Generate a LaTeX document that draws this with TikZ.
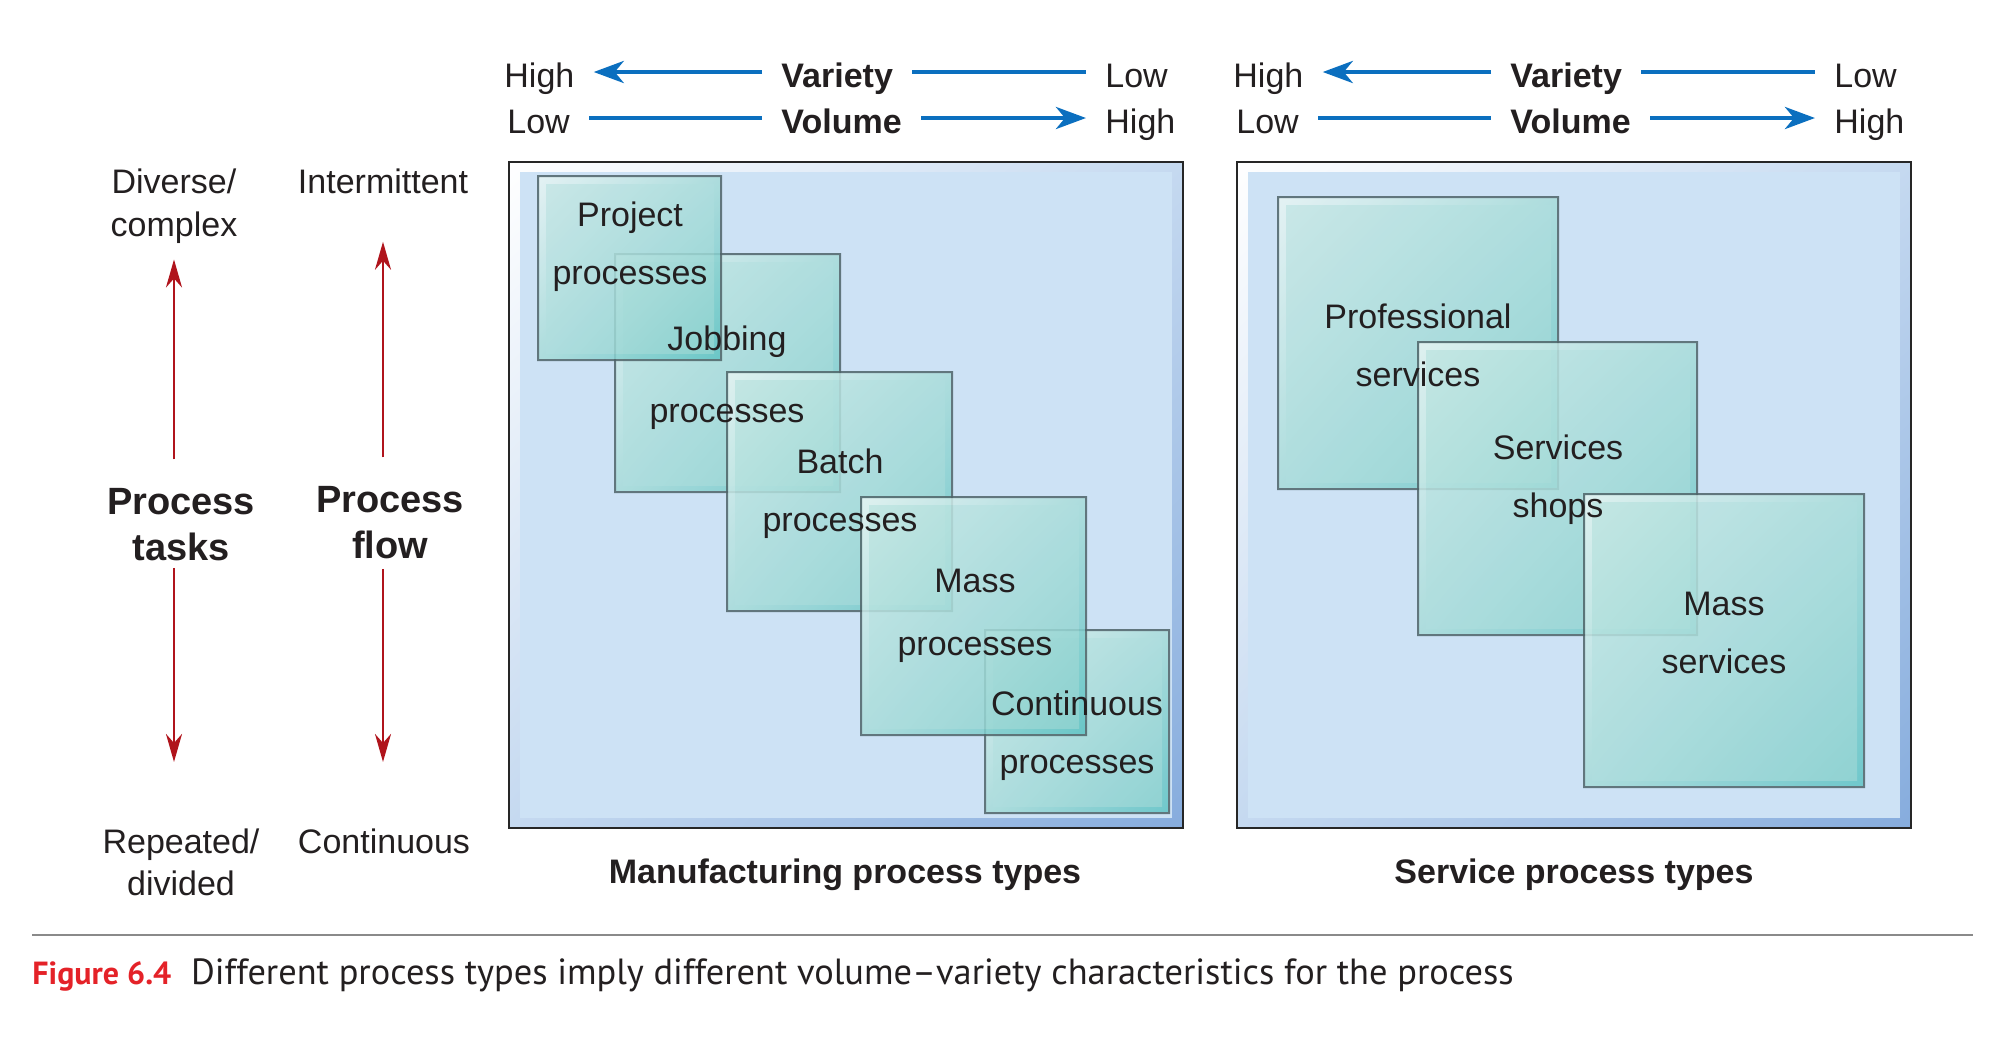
\documentclass[tikz,border=0pt]{standalone}
\usepackage{fontspec}
\setmainfont{Liberation Sans}
\newfontfamily\capfont{PT Sans}
\usepackage{xcolor}
\usepackage{tikz}
\usetikzlibrary{arrows.meta, shadings}

\definecolor{ink}{HTML}{231F20}
\definecolor{arrblue}{HTML}{0B6FBF}
\definecolor{arrred}{HTML}{B0141C}
\definecolor{capred}{HTML}{E42228}
\definecolor{panelin}{HTML}{CDE2F5}
\definecolor{panelmid}{HTML}{C5D9F0}
\definecolor{paneldark}{HTML}{86ACDD}
\definecolor{boxline}{HTML}{4F6468}
\definecolor{ringL}{HTML}{E8F5F4}
\definecolor{ringM}{HTML}{A8DCD9}
\definecolor{ringD}{HTML}{5FC3C4}
\definecolor{tealL}{HTML}{C8E8E5}
\definecolor{tealM}{HTML}{A9DDDA}
\definecolor{tealD}{HTML}{86D0CD}
\definecolor{rulegray}{HTML}{8A8A8A}

\tikzset{
  lbl/.style={font=\fontsize{17}{21.5}\selectfont, text=ink, inner sep=0pt, anchor=base, align=center},
  hdr/.style={font=\fontsize{17}{20}\selectfont, text=ink, inner ysep=0pt, inner xsep=9.5pt,
    text height=17pt, text depth=2pt, anchor=base west},
  hdrb/.style={hdr, font=\fontsize{17}{20}\selectfont\bfseries},
  biglbl/.style={lbl, font=\fontsize{19}{23}\selectfont\bfseries},
  boxtxt/.style={lbl, font=\fontsize{17}{29}\selectfont},
  bluearr/.style={draw=arrblue, line width=2.3pt, -{Stealth[length=15pt,width=11pt,inset=4.5pt]}},
  blueln/.style={draw=arrblue, line width=2.3pt},
  redarr/.style={draw=arrred, line width=1.4pt, -{Stealth[length=14pt,width=8pt,inset=4.5pt]}},
  boxline/.style={draw=boxline, line width=1pt}
}

\begin{document}
\begin{tikzpicture}[x=0.5pt, y=-0.5pt]
\useasboundingbox (0,0) rectangle (1998,1041);

% Two panels with bevelled frame
\foreach \x in {509,1237} {
  \shade[upper left=white, upper right=panelmid, lower left=panelmid, lower right=paneldark]
    (\x,162) rectangle (\x+674,828);
  \fill[panelin] (\x+11,172) rectangle (\x+663,818);
  \draw[line width=1pt, black!85] (\x,162) rectangle (\x+674,828);
}

% Overlapping process boxes (drawn back to front)
\foreach \xa/\ya/\xb/\yb in {615/254/840/492, 538/176/721/360, 727/372/952/611,
    985/630/1169/813, 861/497/1086/735,
    1278/197/1558/489, 1418/342/1697/635, 1584/494/1864/787} {
  \begin{scope}[transparency group, opacity=0.85]
    \shade[upper left=ringL, upper right=ringM, lower left=ringM, lower right=ringD]
      (\xa,\ya) rectangle (\xb,\yb);
    \shade[upper left=tealL, upper right=tealM, lower left=tealM, lower right=tealD]
      (\xa+8,\ya+8) rectangle (\xb-7,\yb-7);
    \draw[boxline] (\xa,\ya) rectangle (\xb,\yb);
  \end{scope}
}

% Box labels (base = last line)
\node[boxtxt] (proj) at (630,284) {Project\\processes};
\node[boxtxt] (job) at (727,422) {Jobbing\\[7pt]processes};
\node[boxtxt] (batch) at (840,531) {Batch\\processes};
\node[boxtxt] (mass) at (975,655) {Mass\\[2.5pt]processes};
\node[boxtxt] (cont) at (1077,773) {Continuous\\processes};
\node[boxtxt] (prof) at (1418,386) {Professional\\services};
\node[boxtxt] (shop) at (1558,517) {Services\\shops};
\node[boxtxt] (msv) at (1724,673) {Mass\\services};

% Variety / volume scales above each panel
\foreach \g/\dx in {m/0, s/729} {
  \node[hdr] (hv\g) at (485+\dx,87) {High};
  \node[hdrb] (var\g) at (762+\dx,87) {Variety};
  \node[hdr] (lv\g) at (1086+\dx,87) {Low};
  \node[hdr] (lo\g) at (488+\dx,133) {Low};
  \node[hdrb] (vol\g) at (762+\dx,133) {Volume};
  \node[hdr] (hi\g) at (1086+\dx,133) {High};
  \draw[bluearr] (var\g) -- (hv\g);
  \draw[blueln] (var\g) -- (lv\g);
  \draw[blueln] (lo\g) -- (vol\g);
  \draw[bluearr] (vol\g) -- (hi\g);
}

% Left-hand scales
\node[lbl] (diverse) at (174,236) {Diverse/\\complex};
\node[lbl] (inter) at (383,193) {Intermittent};
\node[biglbl] (tasks) at (181,560) {Process\\tasks};
\node[biglbl] (flow) at (390,558) {Process\\flow};
\node[lbl, font=\fontsize{17}{21}\selectfont] (repeat) at (181,895) {Repeated/\\divided};
\node[lbl] (contin) at (384,853) {Continuous};

\draw[redarr, shorten <=14pt, shorten >=8pt] (tasks.north -| diverse.south) -- (diverse.south);
\draw[redarr, shorten <=14pt, shorten >=24pt] (flow.north -| inter.south) -- (inter.south);
\draw[redarr, shorten <=3.5pt, shorten >=33pt] (tasks.south -| diverse.south) -- (repeat.north -| diverse.south);
\draw[redarr, shorten <=5pt, shorten >=33pt] (flow.south -| inter.south) -- (contin.north -| inter.south);

% Panel titles
\node[lbl, font=\fontsize{17}{20}\selectfont\bfseries] (mtitle) at (845,883) {Manufacturing process types};
\node[lbl, font=\fontsize{17}{20}\selectfont\bfseries] (stitle) at (1574,883) {Service process types};

% Caption
\draw[rulegray, line width=1pt] (32,935) -- (1973,935);
\node[anchor=base west, inner sep=0pt, text=ink, font=\capfont\fontsize{18.2}{20}\selectfont] (caption) at (32,984)
  {\textcolor{capred}{\fontsize{16}{20}\selectfont\bfseries Figure 6.4}\hspace{5pt} Different process types imply different volume–variety characteristics for the process};

\end{tikzpicture}
\end{document}
